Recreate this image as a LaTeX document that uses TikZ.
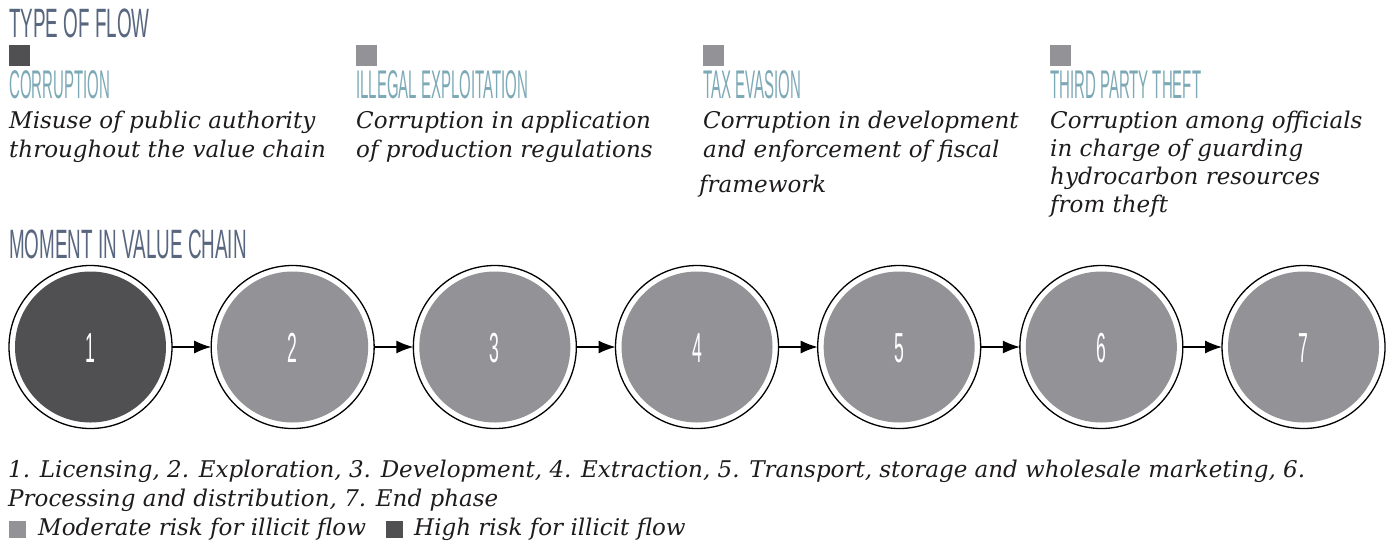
\documentclass[tikz,border=0pt]{standalone}
\usepackage{fontspec}
\usetikzlibrary{arrows.meta,calc}
\newfontfamily\headfont{Liberation Sans}[FakeStretch=0.46]
\newfontfamily\condfont{Liberation Sans}[FakeStretch=0.375]
\newfontfamily\numfont{Liberation Sans}[FakeStretch=0.42]
\newfontfamily\bodyfont{DejaVu Serif}
\definecolor{darkfill}{HTML}{505052}
\definecolor{grayfill}{HTML}{939397}
\definecolor{headblue}{HTML}{58677F}
\definecolor{subteal}{HTML}{7DA9B7}
\definecolor{ink}{HTML}{1E1B1C}
\begin{document}
\begin{tikzpicture}[x=1pt,y=-1pt,
  head/.style={anchor=base west, inner sep=0pt, text=headblue, font=\headfont\fontsize{41}{41}\selectfont},
  sub/.style={anchor=base west, inner sep=0pt, text=subteal, font=\condfont\fontsize{40}{40}\selectfont},
  desc/.style={anchor=base west, inner sep=0pt, text=ink, font=\bodyfont\itshape\fontsize{23}{28}\selectfont},
  note/.style={anchor=base west, inner sep=0pt, text=ink, font=\bodyfont\itshape\fontsize{23}{28}\selectfont},
  swatch/.style={anchor=north west, minimum size=21pt, inner sep=0pt, outer sep=0pt},
  smallswatch/.style={anchor=north west, minimum size=17pt, inner sep=0pt, outer sep=0pt},
  stage/.style={circle, draw=black, line width=1.3pt, fill=white, minimum size=163pt, inner sep=0pt, outer sep=0pt},
  num/.style={anchor=base, inner sep=0pt, text=white, font=\numfont\fontsize{42}{42}\selectfont},
  flow/.style={line width=1.3pt, -{Latex[length=17pt,width=13pt]}}
]
\useasboundingbox (0,0) rectangle (1390,544);

% Type of flow
\node[head] (tof) at (9,37) {TYPE OF FLOW};

\node[swatch, fill=darkfill] (q1) at (9,45) {};
\node[sub] (h1) at (9,98) {CORRUPTION};
\node[desc] (d1a) at (9,128) {Misuse of public authority};
\node[desc] (d1b) at (9,157) {throughout the value chain};

\node[swatch, fill=grayfill] (q2) at (356,45) {};
\node[sub] (h2) at (356,98) {ILLEGAL EXPLOITATION};
\node[desc] (d2a) at (356,128) {Corruption in application};
\node[desc] (d2b) at (356,157) {of production regulations};

\node[swatch, fill=grayfill] (q3) at (703,45) {};
\node[sub] (h3) at (703,98) {TAX EVASION};
\node[desc] (d3a) at (703,128) {Corruption in development};
\node[desc] (d3b) at (703,157) {and enforcement of fiscal};
\node[desc] (d3c) at (699,192) {framework};

\node[swatch, fill=grayfill] (q4) at (1050,45) {};
\node[sub] (h4) at (1050,98) {THIRD PARTY THEFT};
\node[desc] (d4a) at (1050,128) {Corruption among officials};
\node[desc] (d4b) at (1050,156) {in charge of guarding};
\node[desc] (d4c) at (1050,184) {hydrocarbon resources};
\node[desc] (d4d) at (1050,212) {from theft};

% Moment in value chain
\node[head] (miv) at (9,258) {MOMENT IN VALUE CHAIN};

\foreach \i/\c in {1/darkfill,2/grayfill,3/grayfill,4/grayfill,5/grayfill,6/grayfill,7/grayfill}{
  \node[stage] (s\i) at ({90.5+202.17*(\i-1)},347) {};
  \fill[\c] (s\i.center) circle[radius=75.5pt];
  \node[num] (n\i) at ($(s\i.center)+(0,15)$) {\i};
}
\foreach \a/\b in {1/2,2/3,3/4,4/5,5/6,6/7}{
  \draw[flow] (s\a) -- (s\b);
}

% Notes
\node[note] (l1) at (8,477) {1. Licensing, 2. Exploration, 3. Development, 4. Extraction, 5. Transport, storage and wholesale marketing, 6.};
\node[note] (l2) at (8,506) {Processing and distribution, 7. End phase};
\node[smallswatch, fill=grayfill] (k1) at (9,521) {};
\node[note] (m1) at (38,535) {Moderate risk for illicit flow};
\node[smallswatch, fill=darkfill] (k2) at (386,521) {};
\node[note] (m2) at (414,535) {High risk for illicit flow};
\end{tikzpicture}
\end{document}
